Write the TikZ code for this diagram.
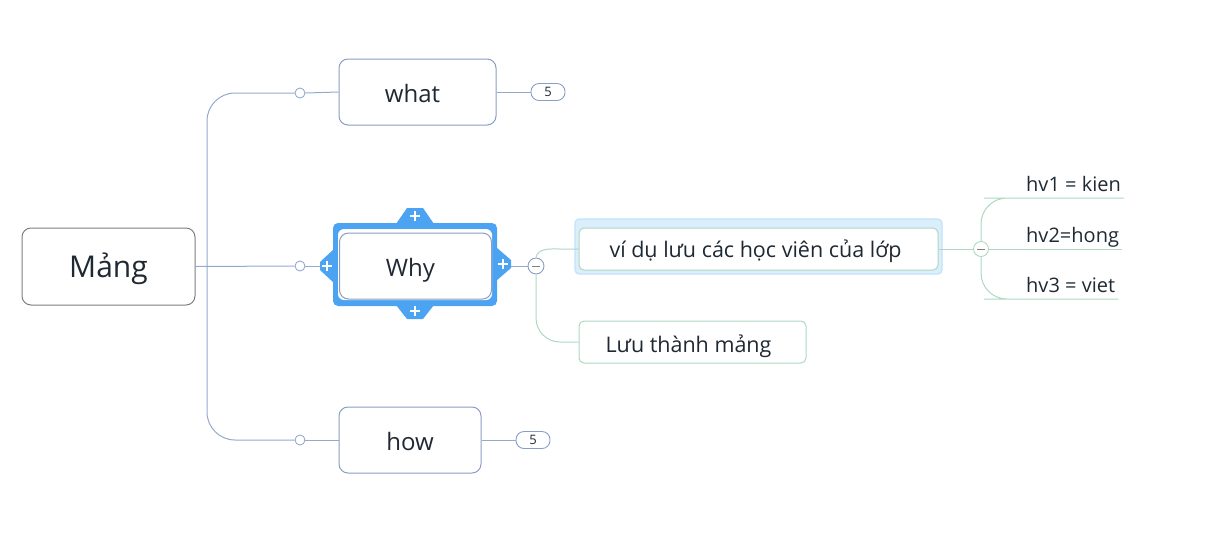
\documentclass[tikz,border=0pt]{standalone}
\usepackage{fontspec}
\setmainfont{Open Sans}
\definecolor{inktext}{HTML}{1F2933}
\definecolor{trunkline}{HTML}{94AACD}
\definecolor{topicline}{HTML}{889EC4}
\definecolor{rootline}{HTML}{7E7E7E}
\definecolor{selblue}{HTML}{4BA3F2}
\definecolor{leafline}{HTML}{AED8C0}
\definecolor{selpale}{HTML}{C2E2FA}
\begin{document}
\begin{tikzpicture}[x=1pt,y=-1pt]
\tikzset{topic/.style={draw=topicline, line width=1pt, rounded corners=9pt, fill=white, inner sep=0pt, text=inktext, minimum height=66pt, text height=20pt, text depth=0pt, font=\fontsize{24}{28}\selectfont},
  root/.style={topic, draw=rootline, minimum height=77pt, text height=24pt, text depth=1.6pt, font=\fontsize{30}{34}\selectfont},
  leafbox/.style={draw=leafline, line width=1pt, rounded corners=5pt, fill=white, inner sep=0pt, text=inktext, minimum height=42pt, text height=21pt, text depth=0pt, font=\fontsize{21.5}{25}\selectfont},
  hvnode/.style={anchor=south west, inner xsep=3pt, inner ysep=6.5pt, text depth=0pt, text=inktext, font=\fontsize{20}{24}\selectfont},
  knob/.style={draw=trunkline, line width=0.9pt, circle, fill=white, inner sep=0pt, minimum size=10pt},
  fold/.style={draw=topicline, line width=0.9pt, circle, fill=white, inner sep=0pt, minimum size=16pt, path picture={\draw[gray, line width=1pt] ([xshift=-4pt]path picture bounding box.center) -- ([xshift=4pt]path picture bounding box.center);}},
  badge/.style={draw=topicline, line width=0.9pt, rounded corners=8pt, fill=white, inner sep=0pt, minimum width=34pt, minimum height=17pt, text=inktext, font=\fontsize{13}{15}\selectfont},
  trunk/.style={draw=trunkline, line width=1pt},
  leaf/.style={draw=leafline, line width=1pt},
  plus/.style={white, line width=2.4pt}}
    \useasboundingbox (0,0) rectangle (1222,550);

    % selection frames
    \fill[selblue, rounded corners=5pt] (333,223) rectangle (497,306);
    \fill[selblue] (396,224) -- (407,208) -- (423,208) -- (434,224) -- cycle;
    \fill[selblue] (396,305) -- (407,319) -- (423,319) -- (434,305) -- cycle;
    \fill[selblue] (334,249) -- (320,262) -- (320,270) -- (334,283) -- cycle;
    \fill[selblue] (496,247) -- (511,260) -- (511,268) -- (496,281) -- cycle;
    \fill[white, rounded corners=6pt] (338,229) rectangle (492,300);
    \draw[plus] (415,211) -- (415,221) (410,216) -- (420,216);
    \draw[plus] (415,306) -- (415,316) (410,311) -- (420,311);
    \draw[plus] (327,261) -- (327,271) (322,266) -- (332,266);
    \draw[plus] (503,259) -- (503,269) (498,264) -- (508,264);
    \draw[selpale, fill=selpale!60, rounded corners=4pt, line width=1.2pt] (575,219) rectangle (942,274);
    \coordinate (whytabl) at (320,266);
    \coordinate (whytabr) at (511,266);

    \node[root, minimum width=173pt] at (108.5,266.5) (mang) {Mảng};
    \node[topic, minimum width=157pt] at (417.5,92) (what) {what\kern10pt};
    \node[topic, minimum width=152pt] at (415.5,266) (why) {Why\kern10pt};
    \node[topic, minimum width=142pt] at (410,440) (how) {how};
    \node[leafbox, minimum width=359pt, text height=16pt] at (758.5,249) (vidu) {ví dụ lưu các học viên của lớp\kern6pt};
    \node[leafbox, minimum width=227pt] at (692.5,342) (luu) {Lưu thành mảng\kern8pt};

    \node[knob] at (300,93) (k_1) {};
    \node[knob] at (300,266) (k_2) {};
    \node[knob] at (300,440) (k_3) {};
    \node[badge] at (548,92) (n_1) {5};
    \node[badge] at (533,440) (n_3) {5};
    \node[fold] at (536,266) (f_1) {};
    \node[fold, draw=leafline, minimum size=15pt] at (981,249) (f_2) {};

    \node[hvnode] at (1023,198) (hv_1) {hv1 = kien};
    \node[hvnode] at (1023,249) (hv_2) {hv2=hong};
    \node[hvnode] at (1023,299) (hv_3) {hv3 = viet};

    \draw[trunk, rounded corners=28pt] (k_1.west) -| (207,266) |- (k_3.west);
    \draw[trunk] (mang.east) -- (k_2.west);
    \draw[trunk] (k_1.east) -- (what.west);
    \draw[trunk] (k_2.east) -- (whytabl);
    \draw[trunk] (k_3.east) -- (how.west);
    \draw[trunk] (what.east) -- (n_1.west);
    \draw[trunk] (how.east) -- (n_3.west);
    \draw[trunk] (whytabr) -- (f_1.west);

    \draw[leaf] (f_1.north) to [out=80,in=180] (560,249) -- (vidu.west);
    \draw[leaf, rounded corners=24pt] (f_1.south) |- (luu.west);
    \draw[leaf] (vidu.east) -- (f_2.west);
    \draw[leaf, rounded corners=26pt] (f_2.north) |- ([xshift=-13pt]hv_1.south west) -- (hv_1.south east);
    \draw[leaf] (f_2.east) -- (hv_2.south east);
    \draw[leaf, rounded corners=26pt] (f_2.south) |- ([xshift=-13pt]hv_3.south west) -- (hv_3.south east);
  \end{tikzpicture}
\end{document}
